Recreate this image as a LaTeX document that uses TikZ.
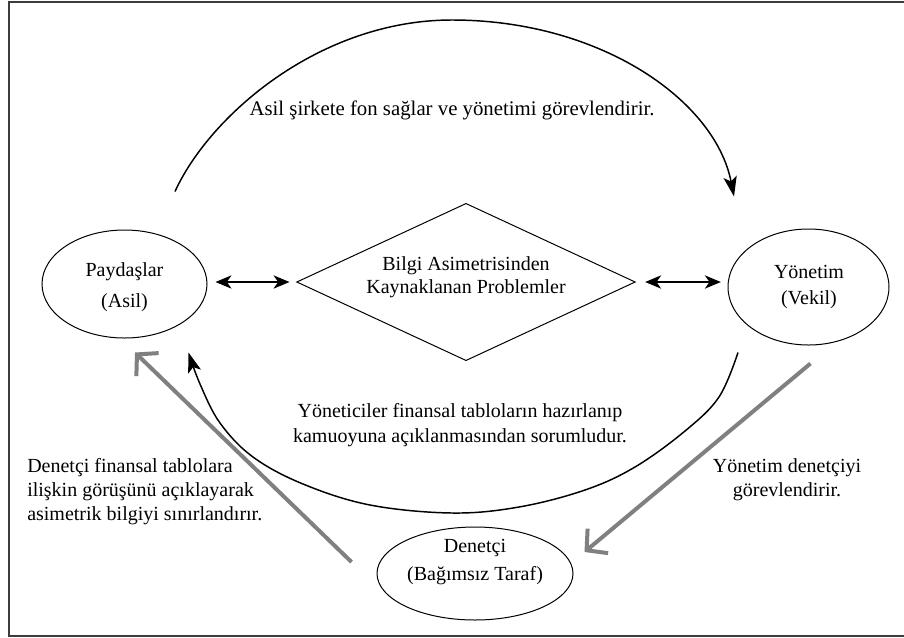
\documentclass[tikz,border=0pt]{standalone}
\usepackage{fontspec}
\setmainfont{Liberation Serif}
\usetikzlibrary{arrows.meta,shapes.geometric}
\definecolor{arrgray}{RGB}{128,128,128}
\definecolor{framegray}{RGB}{60,60,60}
\begin{document}
\begin{tikzpicture}[x=0.75pt,y=-0.75pt,
  every node/.style={font=\fontsize{15}{18}\selectfont},
  ell/.style={draw, ellipse, line width=0.75pt, inner sep=0pt},
  lbl/.style={align=center, inner sep=0pt},
  frame/.style={draw=framegray, line width=1.5pt},
  biarrow/.style={line width=1pt, {Stealth[length=12pt,width=10pt,inset=3.5pt]}-{Stealth[length=12pt,width=10pt,inset=3.5pt]}},
  arcarrow/.style={line width=1.1pt, -{Stealth[length=15pt,width=10pt,inset=3.5pt]}},
  grayarrow/.style={draw=arrgray, line width=3pt, -{Straight Barb[length=11pt,width=24pt]}}
]
\path[use as bounding box] (0,0) rectangle (904,637);
\draw[frame] (904,2) -- (8.5,2) -- (8.5,636) -- (904,636);

% main shapes
\node[ell, minimum width=123.75pt, minimum height=81pt] (pay) at (124.5,284) {};
\node[ell, minimum width=120.75pt, minimum height=87pt] (yon) at (808.5,287) {};
\node[ell, minimum width=147pt, minimum height=69.75pt] (den) at (475,573.5) {};
\node[draw, diamond, line width=0.75pt, inner sep=0pt, minimum width=254pt, minimum height=118pt] (dia) at (466,282) {};

% texts in shapes
\node[lbl] (payt) at (124.5,287) {Paydaşlar\\[5pt](Asil)};
\node[lbl] (yont) at (809,287) {Yönetim\\[2pt](Vekil)};
\node[lbl] (dent) at (475,562) {Denetçi\\[3pt](Bağımsız Taraf)};
\node[lbl] (diat) at (466,277) {Bilgi Asimetrisinden\\[-0.5pt]Kaynaklanan Problemler};

% labels
\node[lbl, font=\fontsize{15.6}{18}\selectfont] (toplbl) at (452,110) {Asil şirkete fon sağlar ve yönetimi görevlendirir.};
\node[lbl] (midlbl) at (460,425) {Yöneticiler finansal tabloların hazırlanıp\\[1pt]kamuoyuna açıklanmasından sorumludur.};
\node[lbl] (rgtlbl) at (787,480) {Yönetim denetçiyi\\görevlendirir.};
\node[lbl, align=left, anchor=west] (lftlbl) at (27,492) {Denetçi finansal tablolara\\ilişkin görüşünü açıklayarak\\asimetrik bilgiyi sınırlandırır.};

% double arrows
\draw[biarrow, shorten <=6pt, shorten >=5pt] (pay.east |- dia.west) -- (dia.west);
\draw[biarrow, shorten <=7pt, shorten >=5pt] (dia.east) -- (dia.east -| yon.west);

% top arc
\coordinate (ts) at ([shift={(50.5,-38)}]pay.north);
\coordinate (te) at ([shift={(-74.5,-32)}]yon.north);
\draw[arcarrow] (ts) .. controls (210,115) and (320,20) .. (452,20)
  .. controls (600,20) and (715,100) .. (te);

% lower arc
\coordinate (ls) at ([shift={(-70.5,7)}]yon.south);
\coordinate (le) at ([shift={(64,14)}]pay.south);
\draw[arcarrow] plot[smooth, tension=0.6] coordinates {(ls) (719,397) (685,431) (635,467) (585,490) (519,507) (452,513) (370,505) (303,484) (253,457) (220,423) (200,384) (le)};

% gray arrows
\draw[grayarrow] ([shift={(2,18)}]yon.south) -- ([shift={(11,-21.5)}]den.east);
\draw[grayarrow] ([shift={(-25,-11.5)}]den.west) -- ([shift={(10.5,14)}]pay.south);
\end{tikzpicture}
\end{document}
